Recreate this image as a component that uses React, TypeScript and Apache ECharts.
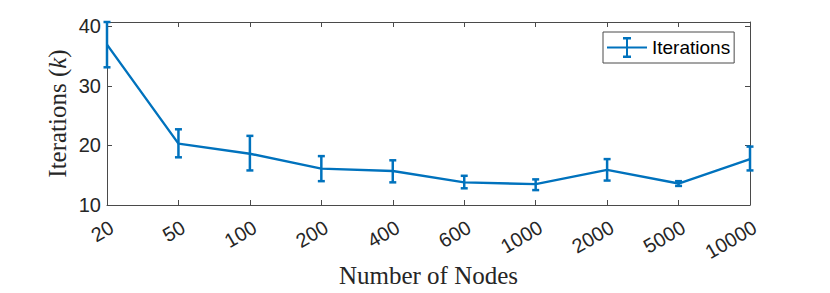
import React, { useEffect, useRef } from "react";
import * as echarts from "echarts";

const categories = ["20", "50", "100", "200", "400", "600", "1000", "2000", "5000", "10000"];
const means = [36.9, 20.3, 18.6, 16.1, 15.7, 13.8, 13.5, 15.9, 13.6, 17.7];
const lower = [33.1, 18.0, 15.8, 14.0, 13.8, 12.8, 12.5, 14.1, 13.2, 15.8];
const upper = [40.7, 22.7, 21.6, 18.2, 17.5, 14.9, 14.3, 17.7, 14.0, 19.8];
const yTicks = [10, 20, 30, 40];
const seriesName = "Iterations";

const BLUE = "#0072BD";
const AXIS = "#4a4a4a";
const TEXT = "#262626";
const SANS = "Liberation Sans, Arial, sans-serif";
const SERIF = "Liberation Serif, Times New Roman, serif";

const legendIcon =
  "path://M0 9.5H40V11.5H0Z M19 1H21V20H19Z M16 0H24V2.5H16Z M16 18.5H24V21H16Z";

export default function App() {
  const ref = useRef<HTMLDivElement>(null);
  useEffect(() => {
    if (!ref.current) return;
    const chart = echarts.init(ref.current, null, { renderer: "svg" });
    const yMin = yTicks[0];
    const yMax = Math.max(...upper);
    const errData = categories.map((_, i) => [i, lower[i], upper[i]]);
    const axisLine = { show: true, lineStyle: { color: AXIS, width: 1 } };
    chart.setOption({
      animation: false,
      backgroundColor: "#ffffff",
      grid: {
        left: 107,
        right: 80,
        top: 22,
        bottom: 88,
        containLabel: false,
        outerBoundsMode: "none",
      },
      legend: {
        left: 603,
        top: 32,
        padding: [5, 4, 5, 4],
        itemWidth: 40,
        itemHeight: 21,
        borderColor: AXIS,
        borderWidth: 1,
        backgroundColor: "#ffffff",
        data: [{ name: seriesName, icon: legendIcon }],
        textStyle: { fontSize: 19, color: "#000000", fontFamily: SANS },
      },
      xAxis: [
        {
          type: "category",
          data: categories,
          boundaryGap: false,
          position: "bottom",
          axisLine,
          axisTick: { show: true, inside: true, length: 5, lineStyle: { color: AXIS } },
          axisLabel: {
            rotate: 30,
            fontSize: 20,
            color: TEXT,
            fontFamily: SANS,
            margin: 12,
            align: "right",
            verticalAlign: "top",
          },
          name: "Number of Nodes",
          nameLocation: "middle",
          nameGap: 58,
          nameMoveOverlap: false,
          nameTextStyle: { fontSize: 25, color: TEXT, fontFamily: SERIF },
          splitLine: { show: false },
        },
        {
          type: "category",
          data: categories,
          boundaryGap: false,
          position: "top",
          axisLine,
          axisTick: { show: true, inside: true, length: 5, lineStyle: { color: AXIS } },
          axisLabel: { show: false },
          splitLine: { show: false },
        },
      ],
      yAxis: [
        {
          type: "value",
          min: yMin,
          max: yMax,
          interval: 10,
          position: "left",
          axisLine,
          axisTick: { show: true, inside: true, length: 5, lineStyle: { color: AXIS } },
          axisLabel: {
            fontSize: 20,
            color: TEXT,
            fontFamily: SANS,
            margin: 6,
            formatter: (v: number) => (yTicks.includes(Math.round(v * 100) / 100) ? String(v) : ""),
          },
          splitLine: { show: false },
          name: "Iterations ({i|k})",
          nameLocation: "middle",
          nameGap: 37,
          nameMoveOverlap: false,
          nameTextStyle: {
            fontSize: 25,
            color: TEXT,
            fontFamily: SERIF,
            rich: {
              i: { fontSize: 25, color: TEXT, fontFamily: SERIF, fontStyle: "italic" },
            },
          },
        },
        {
          type: "value",
          min: yMin,
          max: yMax,
          interval: 10,
          position: "right",
          axisLine,
          axisTick: { show: true, inside: true, length: 5, lineStyle: { color: AXIS } },
          axisLabel: { show: false },
          splitLine: { show: false },
        },
      ],
      series: [
        {
          name: seriesName,
          type: "line",
          data: means,
          symbol: "none",
          lineStyle: { color: BLUE, width: 2.4 },
          itemStyle: { color: BLUE },
          z: 3,
        },
        {
          name: seriesName + " error",
          type: "custom",
          data: errData,
          encode: { x: 0, y: [1, 2] },
          z: 4,
          clip: false,
          renderItem: (params: any, api: any) => {
            const x = api.value(0);
            const lo = api.coord([x, api.value(1)]);
            const hi = api.coord([x, api.value(2)]);
            const hw = 3.5;
            const style = { stroke: BLUE, lineWidth: 2.5, fill: "none" };
            return {
              type: "group",
              children: [
                { type: "line", shape: { x1: lo[0], y1: lo[1], x2: hi[0], y2: hi[1] }, style },
                { type: "line", shape: { x1: hi[0] - hw, y1: hi[1], x2: hi[0] + hw, y2: hi[1] }, style },
                { type: "line", shape: { x1: lo[0] - hw, y1: lo[1], x2: lo[0] + hw, y2: lo[1] }, style },
              ],
            };
          },
        },
      ],
    });
    return () => chart.dispose();
  }, []);
  return <div ref={ref} style={{ width: 830, height: 293, margin: -8 }} />;
}
